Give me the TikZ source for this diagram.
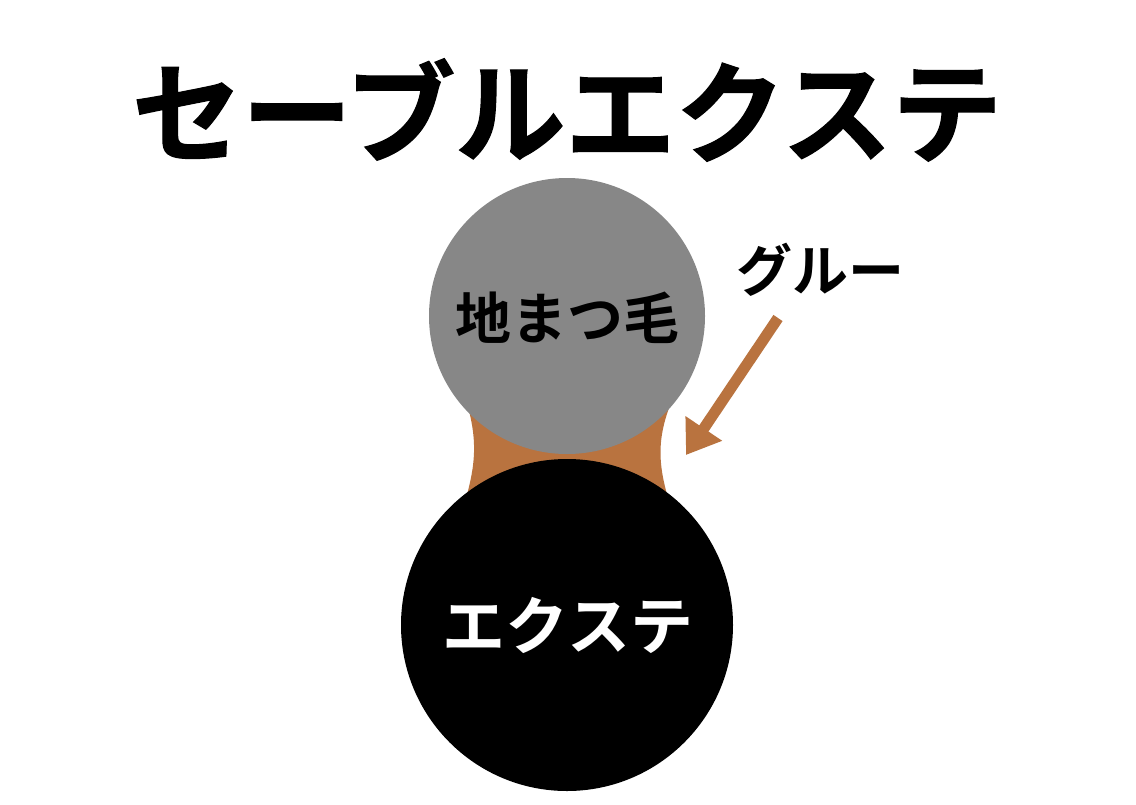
\documentclass[tikz,border=0pt]{standalone}
\usepackage{fontspec}
\newfontfamily\jp{Noto Sans CJK JP}[BoldFont={Noto Sans CJK JP Bold}]
\newfontfamily\jptitle{Noto Sans CJK JP Bold}[FakeBold=1.2]
\usetikzlibrary{arrows.meta}
\definecolor{glue}{HTML}{B9733F}
\definecolor{lashgray}{HTML}{878787}
\tikzset{
  lbl/.style={font=\jp\bfseries, inner sep=0pt, anchor=center},
  ball/.style={circle, inner sep=0pt}
}
\begin{document}
\begin{tikzpicture}[x=1pt,y=-1pt]
\fill[white] (0,0) rectangle (1136,804);
\useasboundingbox (0,0) rectangle (1136,804);
% title
\node[lbl, font=\jptitle\fontsize{110}{120}\selectfont] (title) at (567,110) {セーブルエクステ};
% glue
\fill[glue] (466,400) .. controls (478,440) and (476,465) .. (464,505) -- (670,505) .. controls (658,465) and (656,440) .. (672,400) -- cycle;
% circles
\node[ball, fill=lashgray, minimum size=276pt] (lash) at (567,316) {};
\node[ball, fill=black, minimum size=332pt] (ext) at (567,625) {};
\node[lbl, font=\jp\bfseries\fontsize{56}{60}\selectfont] (lashlbl) at (567,318) {地まつ毛};
\node[lbl, font=\jp\bfseries\fontsize{63}{66}\selectfont, text=white] (extlbl) at (568,625) {エクステ};
% glue label and arrow
\node[lbl, font=\jp\bfseries\fontsize{56}{60}\selectfont] (gluelbl) at (820,270) {グルー};
\coordinate (astart) at (778,318);
\coordinate (aend) at (686,455);
\draw[glue, line width=11pt, -{Triangle[length=32pt,width=42pt]}] (astart) -- (aend);
\end{tikzpicture}
\end{document}
